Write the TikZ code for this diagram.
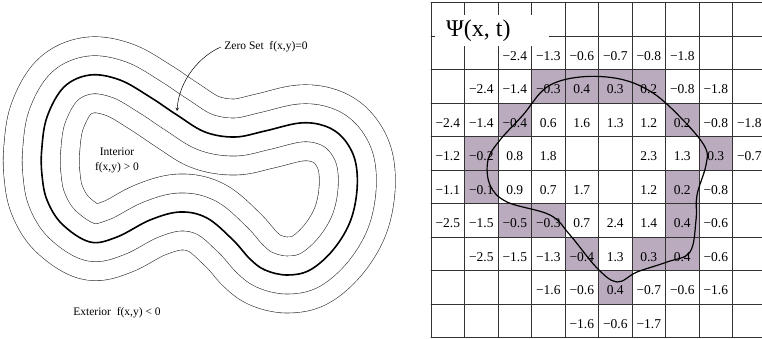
\documentclass[tikz,border=0pt]{standalone}
\usepackage{fontspec}
\setmainfont{Liberation Serif}
\definecolor{cellshade}{RGB}{186,172,190}
\tikzset{
  gridline/.style={black!80,line width=0.9pt},
  cellval/.style={anchor=base,inner sep=0pt,font=\fontsize{13.5}{15}\selectfont},
  lbl/.style={font=\fontsize{11.5}{15}\selectfont,align=center},
}
\begin{document}
\begin{tikzpicture}[x=1pt,y=-1pt,>=stealth,line join=round,line cap=round]
	\useasboundingbox (0,0) rectangle (762,338);
	\clip (0,0) rectangle (762,338);
	% level sets of f: stacked strokes give the parallel contours
	\foreach \w/\col in {76.6/black!80,75.4/white,38.6/black!80,37.4/white,1.6/black}
		\draw[line width=\w pt,\col] plot[smooth cycle,tension=0.6] coordinates {(41.7,150) (47,117) (64,87) (90,75) (120,80) (150,97) (177,115) (205,132) (235,137) (265,131) (300,123) (325,126) (343,138) (355,160) (357,190) (350,222) (333,250) (310,270) (287,275) (265,270) (250,259) (233,240) (207,218) (180,212) (150,220) (117,237) (90,242) (62,224) (47,200) (42,175)};
	\node[lbl] (zs) at (266,47) {Zero Set\ \ f(x,y)=0};
	\coordinate (zstip) at (177,111);
	\draw[->,line width=0.5pt] (zs.west) .. controls (200,56) and (179,80) .. (zstip);
	\node[lbl] (inside) at (117,160) {Interior\\f(x,y) > 0};
	\node[lbl] (outside) at (117,313) {Exterior\ \ f(x,y) < 0};
	% grid of Psi values
	\foreach \c/\r in {4/3,5/3,6/3,7/3,3/4,8/4,2/5,9/5,2/6,8/6,3/7,4/7,8/7,5/8,7/8,8/8,6/9}
		\fill[cellshade] ({431+33.5*(\c-1)},{2.5+33.5*(\r-1)}) rectangle ++(33.5,33.5);
	\foreach \i in {0,...,10}{
		\draw[gridline] ({431+33.5*\i},2.5) -- ({431+33.5*\i},337.5);
		\draw[gridline] (431,{2.5+33.5*\i}) -- (766,{2.5+33.5*\i});
	}
	\fill[white] (435,15) rectangle (549,46);
	\node[anchor=base west,inner sep=0pt,font=\fontsize{24}{26}\selectfont] (psi) at (446,36) {Ψ(x, t)};
	\foreach \c/\r/\v in {
		3/2/−2.4, 4/2/−1.3, 5/2/−0.6, 6/2/−0.7, 7/2/−0.8, 8/2/−1.8,
		2/3/−2.4, 3/3/−1.4, 4/3/−0.3, 5/3/0.4, 6/3/0.3, 7/3/0.2, 8/3/−0.8, 9/3/−1.8,
		1/4/−2.4, 2/4/−1.4, 3/4/−0.4, 4/4/0.6, 5/4/1.6, 6/4/1.3, 7/4/1.2, 8/4/0.2, 9/4/−0.8, 10/4/−1.8,
		1/5/−1.2, 2/5/−0.2, 3/5/0.8, 4/5/1.8, 7/5/2.3, 8/5/1.3, 9/5/0.3, 10/5/−0.7,
		1/6/−1.1, 2/6/−0.1, 3/6/0.9, 4/6/0.7, 5/6/1.7, 7/6/1.2, 8/6/0.2, 9/6/−0.8,
		1/7/−2.5, 2/7/−1.5, 3/7/−0.5, 4/7/−0.3, 5/7/0.7, 6/7/2.4, 7/7/1.4, 8/7/0.4, 9/7/−0.6,
		2/8/−2.5, 3/8/−1.5, 4/8/−1.3, 5/8/−0.4, 6/8/1.3, 7/8/0.3, 8/8/0.4, 9/8/−0.6,
		4/9/−1.6, 5/9/−0.6, 6/9/0.4, 7/9/−0.7, 8/9/−0.6, 9/9/−1.6,
		5/10/−1.6, 6/10/−0.6, 7/10/−1.7}
		\node[cellval] (v\c-\r) at ({431+33.5*(\c-0.5)},{2.5+33.5*(\r-0.5)+7.5}) {\v};
	% zero level of Psi
	\draw[line width=1.2pt] plot[smooth cycle,tension=0.6] coordinates {(488,160) (500,140) (523,115) (547,87) (580,77) (620,79) (653,93) (683,120) (705,147) (706,165) (697,195) (696,220) (690,252) (667,262) (637,272) (617,282) (597,268) (570,235) (550,215) (507,202) (490,185)};
\end{tikzpicture}
\end{document}
